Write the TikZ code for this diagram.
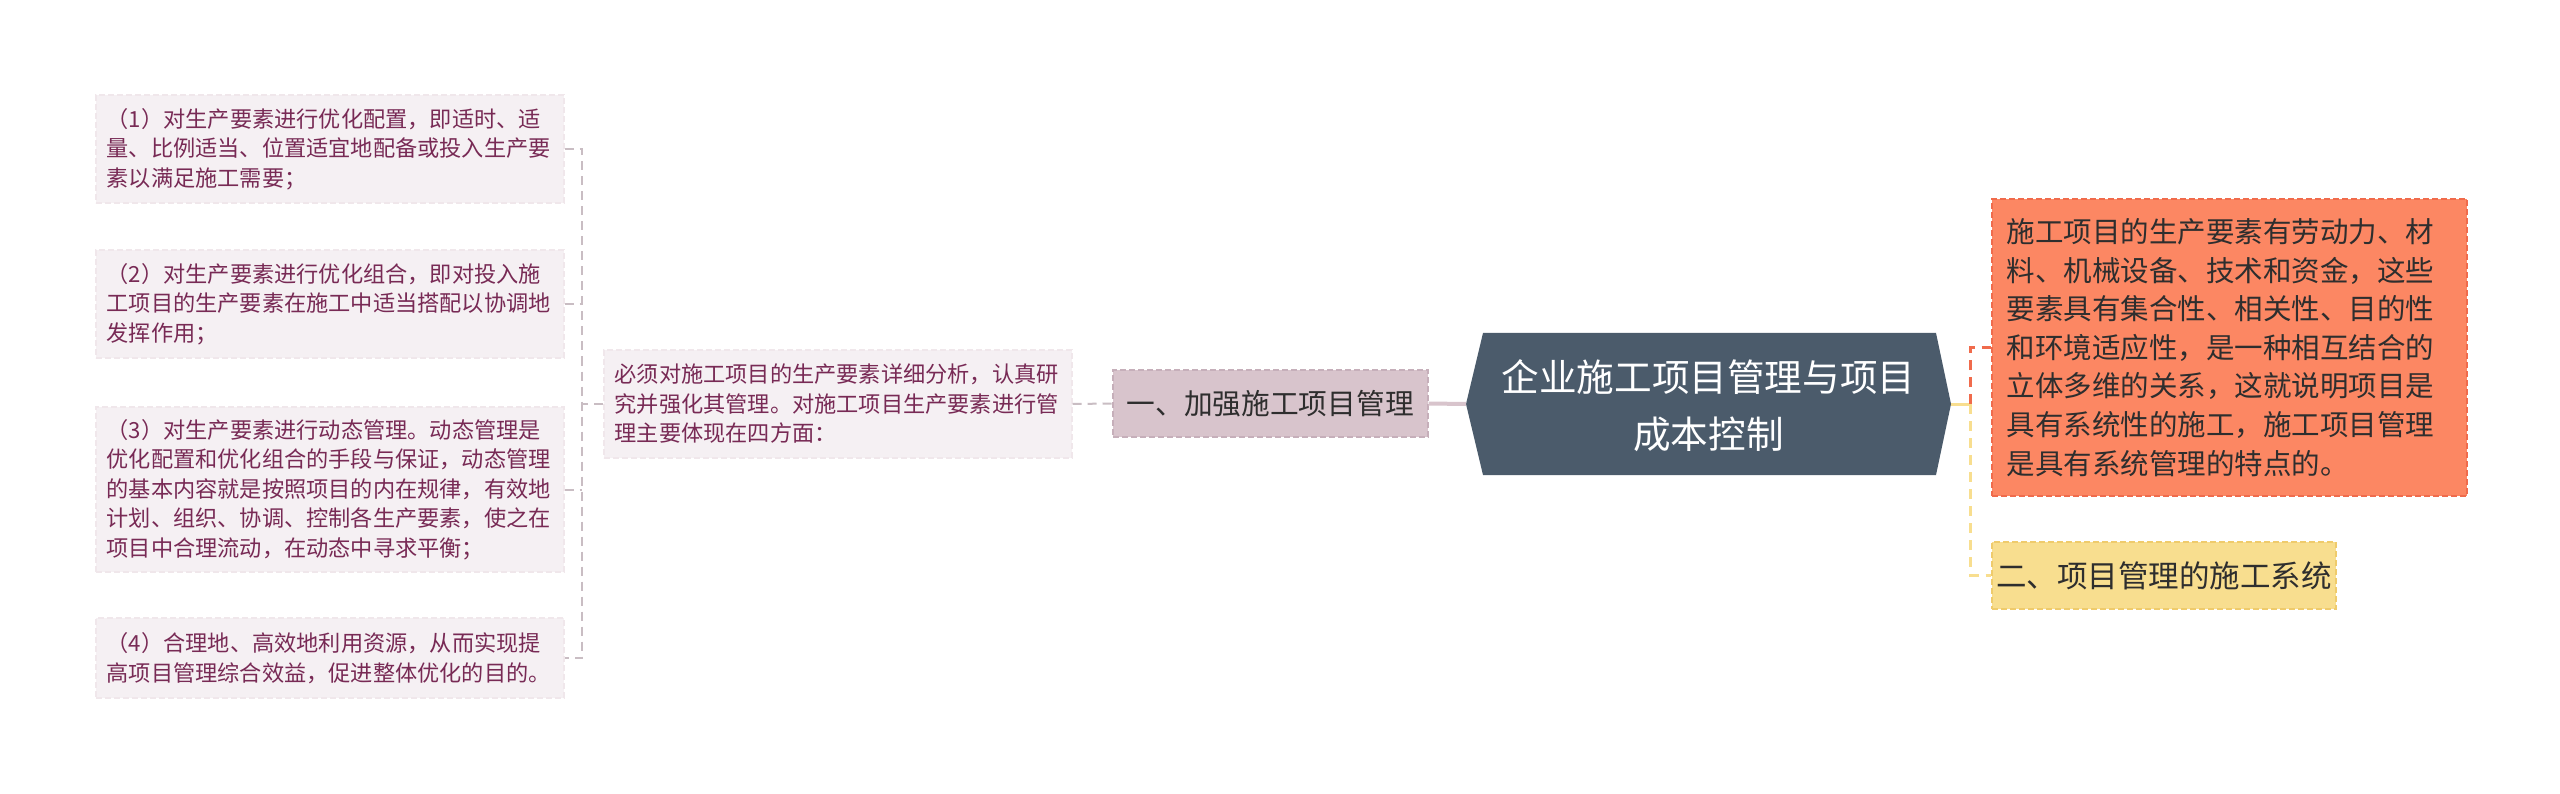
\documentclass[tikz,border=0pt]{standalone}
\usepackage{fontspec}
\setmainfont{Noto Sans CJK SC}
\usetikzlibrary{calc}

\definecolor{leaffill}{HTML}{F5F0F3}
\definecolor{leafline}{HTML}{F0E7EB}
\definecolor{leaftext}{HTML}{782A55}
\definecolor{leaflink}{HTML}{C9BDC3}
\definecolor{onefill}{HTML}{D8C4CC}
\definecolor{oneline}{HTML}{C6AFBA}
\definecolor{hubfill}{HTML}{4B5B6B}
\definecolor{notefill}{HTML}{FC8763}
\definecolor{noteline}{HTML}{F06B4C}
\definecolor{sysfill}{HTML}{F8DE8F}
\definecolor{sysline}{HTML}{EFCB6C}
\definecolor{darktext}{HTML}{2E2E2E}

\tikzset{
	leaf/.style={draw=leafline, line width=1.5pt, dash pattern=on 6pt off 3pt, fill=leaffill, text=leaftext,
		font=\fontsize{22.2}{29.5}\selectfont, align=left, text width=446pt, inner xsep=11pt, anchor=west},
	leaflink/.style={draw=leaflink, line width=2pt, dash pattern=on 9pt off 6pt},
	onebox/.style={draw=oneline, line width=1.5pt, dash pattern=on 6pt off 3pt, fill=onefill, text=darktext,
		font=\fontsize{28.7}{34}\selectfont, minimum width=315pt, minimum height=67pt, anchor=west},
	notebox/.style={draw=noteline, line width=1.5pt, dash pattern=on 6pt off 3pt, fill=notefill, text=darktext,
		font=\fontsize{28.5}{38.6}\selectfont, align=left, text width=445pt, inner xsep=15pt, minimum height=297pt, anchor=west},
	sysbox/.style={draw=sysline, line width=1.5pt, dash pattern=on 6pt off 3pt, fill=sysfill, text=darktext,
		font=\fontsize{30.5}{36}\selectfont, minimum width=344pt, minimum height=67pt, anchor=west},
}

\begin{document}
\begin{tikzpicture}[x=1pt, y=-1pt]
			%%%%% START %%%%%
			\useasboundingbox[fill=white] (0, 0) rectangle (2560, 794);
			
			% central topic
			\coordinate (hubL) at (1466, 404);
			\coordinate (hubR) at (1951, 404);
			\fill[hubfill] (hubL) -- (1483, 333) -- (1936, 333) -- (hubR) -- (1936, 475) -- (1483, 475) -- cycle;
			\node[text=white, align=center, font=\fontsize{37.6}{57}\selectfont] (hub) at (1708.5, 406) {企业施工项目管理与项目\\成本控制};
			
			% left branch
			\node[onebox] (one) at (1112, 403.5) {一、加强施工项目管理};
			\node[leaf, minimum height=108pt] (detail) at (603, 404) {必须对施工项目的生产要素详细分析，认真研\\究并强化其管理。对施工项目生产要素进行管\\理主要体现在四方面：};
			
			\node[leaf, minimum height=108pt] (p1) at (95, 149) {（1）对生产要素进行优化配置，即适时、适\\量、比例适当、位置适宜地配备或投入生产要\\素以满足施工需要；};
			\node[leaf, minimum height=108pt] (p2) at (95, 304) {（2）对生产要素进行优化组合，即对投入施\\工项目的生产要素在施工中适当搭配以协调地\\发挥作用；};
			\node[leaf, minimum height=165pt] (p3) at (95, 489.5) {（3）对生产要素进行动态管理。动态管理是\\优化配置和优化组合的手段与保证，动态管理\\的基本内容就是按照项目的内在规律，有效地\\计划、组织、协调、控制各生产要素，使之在\\项目中合理流动，在动态中寻求平衡；};
			\node[leaf, minimum height=80pt] (p4) at (95, 658) {（4）合理地、高效地利用资源，从而实现提\\高项目管理综合效益，促进整体优化的目的。};
			
			\coordinate (trunk) at (582, 404);
			\draw[draw=onefill, line width=4pt] (one.east) -- (hubL);
			\draw[leaflink] (detail.east) -- (one.west);
			\draw[leaflink] (detail.west) -- (trunk);
			\draw[leaflink] (p1.east) -| (trunk) |- (p4.east);
			\draw[leaflink] (p2.east) -- (p2.east -| trunk);
			\draw[leaflink] (p3.east) -- (p3.east -| trunk);
			
			% right branch
			\node[notebox] (note) at (1991, 347.5) {施工项目的生产要素有劳动力、材\\料、机械设备、技术和资金，这些\\要素具有集合性、相关性、目的性\\和环境适应性，是一种相互结合的\\立体多维的关系，这就说明项目是\\具有系统性的施工，施工项目管理\\是具有系统管理的特点的。};
			\node[sysbox] (sys) at (1991, 575.5) {二、项目管理的施工系统};
			
			\coordinate (fork) at (1970, 404);
			\draw[draw=sysfill, line width=3pt] (hubR) -- (fork);
			\draw[draw=noteline, line width=3pt, dash pattern=on 10pt off 7pt] (fork) |- (note.west);
			\draw[draw=sysfill, line width=3pt, dash pattern=on 10pt off 7pt] (fork) |- (sys.west);
			
			%%%%% END %%%%%
		\end{tikzpicture}
\end{document}
